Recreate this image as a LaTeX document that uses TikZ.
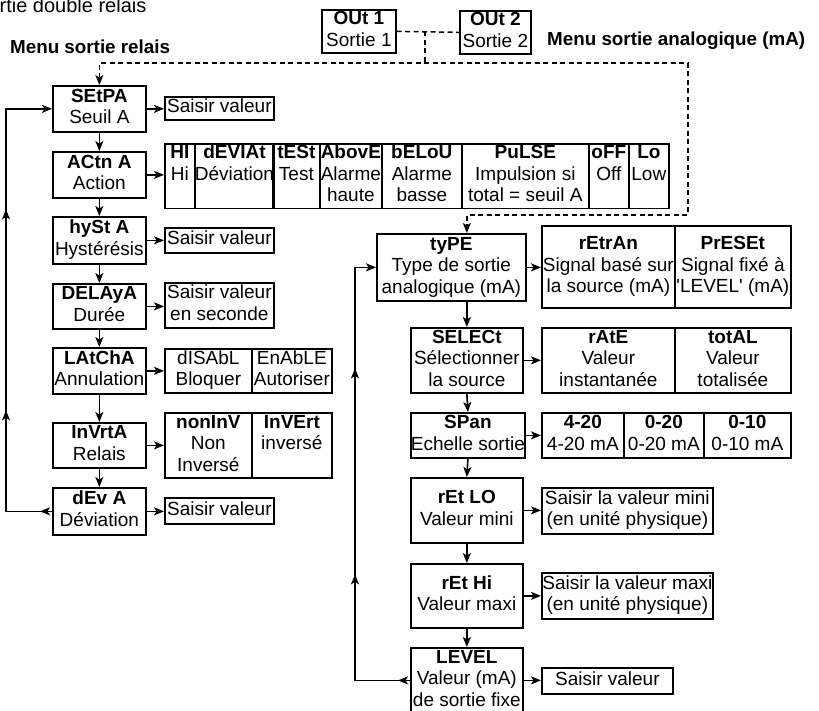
\documentclass[tikz,border=0pt]{standalone}
\usepackage{fontspec}
\setmainfont{Liberation Sans}
\usetikzlibrary{arrows.meta,decorations.markings,calc}

% two and three line labels: bold code, then its meaning
\newcommand\twoln[2]{\strut\textbf{#1}\\#2\strut}
\newcommand\threeln[3]{\strut\textbf{#1}\\#2\\#3\strut}

\begin{document}
\begin{tikzpicture}[x=1pt,y=-1pt,
  >={Stealth[length=10pt,width=8pt,inset=2.5pt]},
  txt/.style={font=\fontsize{19}{21.5}\selectfont, inner sep=0pt, align=center},
  box/.style={txt, draw, line width=1.7pt, anchor=north west},
  head/.style={font=\fontsize{18.8}{21.5}\selectfont\bfseries, inner sep=0pt, anchor=base west},
  link/.style={line width=1.6pt, ->},
  loopline/.style={line width=1.6pt},
  dashlink/.style={line width=1.5pt, dash pattern=on 5pt off 3.5pt},
]
\useasboundingbox (0,0) rectangle (819,710);

% ---- titles ----
\node[txt, font=\fontsize{20}{22}\selectfont, anchor=base west] (title) at (-25,12) {Sortie double relais};
\node[head] (hrel) at (10,53) {Menu sortie relais};
\node[head] (hana) at (547,45) {Menu sortie analogique (mA)};

% ---- output selection ----
\node[box, minimum width=74, minimum height=42] (out1) at (321,9) {\twoln{OUt 1}{Sortie 1}};
\node[box, minimum width=71, minimum height=41] (out2) at (459,10) {\twoln{OUt 2}{Sortie 2}};

% ---- relay menu (left column) ----
\node[box, minimum width=93, minimum height=46] (setpa) at (52,85)  {\twoln{SEtPA}{Seuil A}};
\node[box, minimum width=93, minimum height=46] (actn)  at (52,151) {\twoln{ACtn A}{Action}};
\node[box, minimum width=93, minimum height=47] (hyst)  at (52,216) {\twoln{hySt A}{Hystérésis}};
\node[box, minimum width=93, minimum height=45] (delay) at (52,283) {\twoln{DELAyA}{Durée}};
\node[box, minimum width=93, minimum height=46] (latch) at (52,347) {\twoln{LAtChA}{Annulation}};
\node[box, minimum width=93, minimum height=45] (invrt) at (52,422) {\twoln{InVrtA}{Relais}};
\node[box, minimum width=93, minimum height=47] (deva)  at (52,487) {\twoln{dEv A}{Déviation}};

% values of the relay menu
\node[box, minimum width=109, minimum height=23] (sva) at (164,96)  {\strut Saisir valeur};
\node[box, minimum width=109, minimum height=25] (svh) at (164,227) {\strut Saisir valeur};
\node[box, minimum width=109, minimum height=45] (svd) at (164,282) {\strut Saisir valeur\\en seconde\strut};
\node[box, minimum width=109, minimum height=26] (svv) at (164,497) {\strut Saisir valeur};

% action choices
\node[box, minimum width=30,  minimum height=64] (hi)    at (164,143) {\threeln{HI}{Hi}{}};
\node[box, minimum width=78,  minimum height=64] (devi)  at (194,143) {\threeln{dEVIAt}{Déviation}{}};
\node[box, minimum width=47,  minimum height=64] (test)  at (272,143) {\threeln{tESt}{Test}{}};
\node[box, minimum width=62,  minimum height=64] (above) at (319,143) {\threeln{AbovE}{Alarme}{haute}};
\node[box, minimum width=80,  minimum height=64] (below) at (381,143) {\threeln{bELoU}{Alarme}{basse}};
\node[box, minimum width=127, minimum height=64] (pulse) at (461,143) {\threeln{PuLSE}{Impulsion si}{total = seuil A}};
\node[box, minimum width=40,  minimum height=64] (off)   at (588,143) {\threeln{oFF}{Off}{}};
\node[box, minimum width=40,  minimum height=64] (low)   at (628,143) {\threeln{Lo}{Low}{}};

% latch choices
\node[box, minimum width=87, minimum height=44] (dis) at (164,348) {\strut dISAbL\\Bloquer\strut};
\node[box, minimum width=80, minimum height=44] (ena) at (251,348) {\strut EnAbLE\\Autoriser\strut};

% relay sense choices
\node[box, minimum width=87, minimum height=65] (noninv) at (164,412) {\threeln{nonInV}{Non}{Inversé}};
\node[box, minimum width=80, minimum height=65] (inv)    at (251,412) {\threeln{InVErt}{inversé}{}};

% ---- analog menu (right column) ----
\node[box, minimum width=149, minimum height=67] (type)   at (376,233) {\threeln{tyPE}{Type de sortie}{analogique (mA)}};
\node[box, minimum width=112, minimum height=65] (select) at (410,327) {\threeln{SELECt}{Sélectionner}{la source}};
\node[box, minimum width=112, minimum height=45] (span)   at (410,412) {\twoln{SPan}{Echelle sortie}};
\node[box, minimum width=112, minimum height=65] (retlo)  at (410,477) {\twoln{rEt LO}{Valeur mini}};
\node[box, minimum width=112, minimum height=64] (rethi)  at (410,563) {\twoln{rEt Hi}{Valeur maxi}};
\node[box, minimum width=112, minimum height=65] (level)  at (410,647) {\threeln{LEVEL}{Valeur (mA)}{de sortie fixe}};

% output type choices
\node[box, minimum width=133, minimum height=82] (retran) at (541,225) {\threeln{rEtrAn}{Signal basé sur}{la source (mA)}};
\node[box, minimum width=116, minimum height=82] (preset) at (674,225) {\threeln{PrESEt}{Signal fixé à}{\textquotesingle LEVEL\textquotesingle{} (mA)}};
% source choices
\node[box, minimum width=133, minimum height=65] (rate)  at (541,327) {\threeln{rAtE}{Valeur}{instantanée}};
\node[box, minimum width=116, minimum height=65] (total) at (674,327) {\threeln{totAL}{Valeur}{totalisée}};
% span choices
\node[box, minimum width=82, minimum height=45] (r420) at (541,412) {\twoln{4-20}{4-20 mA}};
\node[box, minimum width=80, minimum height=45] (r020) at (623,412) {\twoln{0-20}{0-20 mA}};
\node[box, minimum width=87, minimum height=45] (r010) at (703,412) {\twoln{0-10}{0-10 mA}};
% values of the analog menu
\node[box, minimum width=171, minimum height=46] (svmin) at (541,487) {\strut Saisir la valeur mini\\(en unité physique)\strut};
\node[box, minimum width=171, minimum height=46] (svmax) at (541,572) {\strut Saisir la valeur maxi\\(en unité physique)\strut};
\node[box, minimum width=131, minimum height=26] (svlev) at (541,667) {\strut Saisir valeur};

% ---- helper coordinates ----
\coordinate (jx) at (425,0);
\coordinate (jb) at (425,63);
\coordinate (rc1) at (688,63);
\coordinate (rc2) at (688,215);
\coordinate (lx) at (6,0);
\coordinate (rx) at (355,0);

% ---- dashed links from the outputs ----
\draw[dashlink] (out1.east) -- (out2.west);
\draw[dashlink] (out1.east -| jx) -- (jb);
\draw[dashlink, <->] (setpa.north) -- (setpa.north |- jb) -- (rc1) -- (rc2)
  -- (select.north |- rc2) -- (select.north |- type.north);

% ---- relay menu links ----
\foreach \a/\b in {setpa/actn, actn/hyst, hyst/delay, delay/latch, latch/invrt, invrt/deva}
  \draw[link] (\a.south) -- (\b.north);
\draw[link] (setpa.east) -- (setpa.east -| sva.west);
\draw[link] (actn.east)  -- (actn.east -| hi.west);
\draw[link] (hyst.east)  -- (hyst.east -| svh.west);
\draw[link] (delay.east) -- (delay.east -| svd.west);
\draw[link] (latch.east) -- (latch.east -| dis.west);
\draw[link] (invrt.east) -- (invrt.east -| noninv.west);
\draw[link] (deva.east)  -- (deva.east -| svv.west);
% return loop
\draw[loopline, ->, postaction={decorate}, decoration={markings,
    mark=at position 12pt with {\arrow{>}},
    mark=at position 147pt with {\arrow{>}},
    mark=at position 348pt with {\arrow{>}}}]
  (deva.west) -- (deva.west -| lx) -- (setpa.west -| lx) -- (setpa.west);

% ---- analog menu links ----
\draw[link] (select.north |- type.south) -- (select.north);
\foreach \a/\b in {select/span, span/retlo, retlo/rethi, rethi/level}
  \draw[link] (\a.south) -- (\b.north);
\draw[link] (type.east)   -- (type.east -| retran.west);
\draw[link] (select.east) -- (select.east -| rate.west);
\draw[link] (span.east)   -- (span.east -| r420.west);
\draw[link] (retlo.east)  -- (retlo.east -| svmin.west);
\draw[link] (rethi.east)  -- (rethi.east -| svmax.west);
\draw[link] (level.east)  -- (level.east -| svlev.west);
% return loop
\draw[loopline, ->, postaction={decorate}, decoration={markings,
    mark=at position 12pt with {\arrow{>}},
    mark=at position 161pt with {\arrow{>}},
    mark=at position 367pt with {\arrow{>}}}]
  (level.west) -- (level.west -| rx) -- (type.west -| rx) -- (type.west);
\end{tikzpicture}
\end{document}
